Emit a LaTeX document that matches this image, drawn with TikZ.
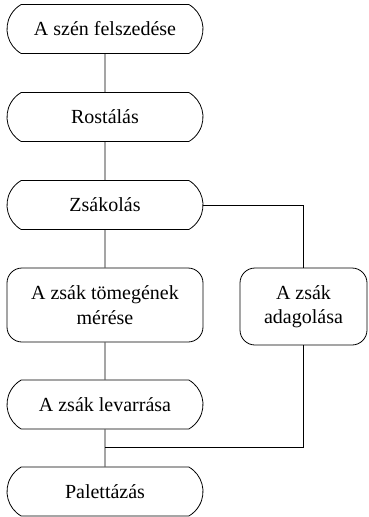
\documentclass[tikz,border=0pt]{standalone}
\usepackage{fontspec}
\setmainfont{Liberation Serif}
\usetikzlibrary{shapes.misc}
\tikzset{
  stage/.style={rounded rectangle, rounded rectangle arc length=120, draw, line width=0.8pt, minimum height=49pt, minimum width=196pt, inner sep=0pt, align=center},
  tallstage/.style={rectangle, draw, line width=0.8pt, rounded corners=15pt, inner sep=0pt, align=center},
  link/.style={line width=0.8pt}
}
\begin{document}
\begin{tikzpicture}[x=1pt, y=-1pt, font=\fontsize{20}{24.5}\selectfont]
  \useasboundingbox (0, 0) rectangle (368, 517);
  % Nodes
  \node (SF) [stage] at (105, 29) {A szén felszedése};
  \node (ROST) [stage] at (105, 117) {Rostálás};
  \node (ZSAK) [stage] at (105, 205) {Zsákolás};
  \node (MER) [tallstage, minimum width=196pt, minimum height=74pt] at (105, 305) {A zsák tömegének\\mérése};
  \node (ADAG) [tallstage, minimum width=127pt, minimum height=77pt] at (303.5, 306.5) {A zsák\\adagolása};
  \node (LEV) [stage] at (105, 404.5) {A zsák levarrása};
  \node (PAL) [stage] at (105, 491.5) {Palettázás};
  \coordinate (JOIN) at (105, 447);
  % Lines
  \draw[link] (SF) -- (ROST);
  \draw[link] (ROST) -- (ZSAK);
  \draw[link] (ZSAK) -- (MER);
  \draw[link] (MER) -- (LEV);
  \draw[link] (LEV) -- (PAL);
  \draw[link] (ZSAK.east) -| (ADAG.north);
  \draw[link] (ADAG.south) |- (JOIN);
\end{tikzpicture}
\end{document}
